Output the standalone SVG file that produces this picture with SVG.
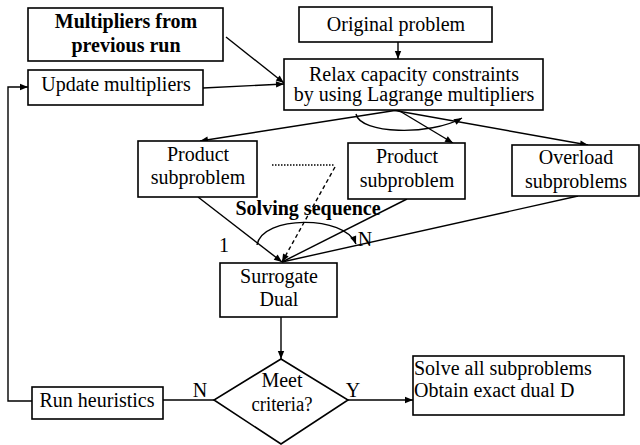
<svg xmlns="http://www.w3.org/2000/svg" width="640" height="445" viewBox="0 0 640 445">
<style>
.b{fill:#fff;stroke:#000;stroke-width:1.6}
.t{font-family:"Liberation Serif","Times New Roman",serif;font-size:20px;fill:#000;text-anchor:middle}
.l{text-anchor:start}
.bd{font-weight:bold}
.c{fill:none;stroke:#000;stroke-width:1.4}
</style>
<defs>
<marker id="ah" viewBox="0 0 10 10" refX="10" refY="5" markerWidth="9" markerHeight="8" markerUnits="userSpaceOnUse" orient="auto"><path d="M0,1 L10,5 L0,9 z" fill="#000"/></marker>
</defs>
<rect width="640" height="445" fill="#fff"/>
<g id="connectors">
<path class="c" d="M398,42 L398,59" marker-end="url(#ah)"/>
<path class="c" d="M226,37 L284,83" marker-end="url(#ah)"/>
<path class="c" d="M203,88 L284,84" marker-end="url(#ah)"/>
<path class="c" d="M398,110 L200,141" marker-end="url(#ah)"/>
<path class="c" d="M398,110 L453,143" marker-end="url(#ah)"/>
<path class="c" d="M392,110 L588,145" marker-end="url(#ah)"/>
<path class="c" d="M356,114 C360,134 430,136 462,118" marker-end="url(#ah)"/>
<path class="c" d="M272,165 L335,165" stroke-dasharray="1.5,1.5"/>
<path class="c" d="M335,167 L282,262" stroke-dasharray="4,3" marker-end="url(#ah)"/>
<path class="c" d="M198,197 L282,262" marker-end="url(#ah)"/>
<path class="c" d="M407,199 L282,262"/>
<path class="c" d="M578,196 L282,262"/>
<path class="c" d="M257,245 C262,215 345,215 356,244" marker-end="url(#ah)"/>
<path class="c" d="M281,317 L281,359" marker-end="url(#ah)"/>
<path class="c" d="M348,400 L413,400" marker-end="url(#ah)"/>
<path class="c" d="M214,400 L163,400"/>
<path class="c" d="M32,401 L8,401 L8,87 L28,87" marker-end="url(#ah)"/>
<text class="t bd" x="308" y="215">Solving sequence</text>
<text class="t" x="224" y="252">1</text>
<text class="t" x="365" y="246">N</text>
<text class="t" x="200" y="397">N</text>
<text class="t" x="353" y="397">Y</text>
</g>
<g id="multipliers-prev">
<rect class="b" x="28" y="8" width="195" height="53"/>
<text class="t bd" x="126" y="28">Multipliers from</text>
<text class="t bd" x="126" y="52">previous run</text>
</g>
<g id="update-multipliers">
<rect class="b" x="28" y="70" width="175" height="35"/>
<text class="t" x="116" y="91">Update multipliers</text>
</g>
<g id="original-problem">
<rect class="b" x="299" y="7" width="193" height="35"/>
<text class="t" x="396" y="31">Original problem</text>
</g>
<g id="relax">
<rect class="b" x="284" y="59" width="259" height="51"/>
<text class="t" x="414" y="81">Relax capacity constraints</text>
<text class="t" x="414" y="101">by using Lagrange multipliers</text>
</g>
<g id="product1">
<rect class="b" x="138" y="141" width="119" height="56"/>
<text class="t" x="198" y="161">Product</text>
<text class="t" x="198" y="184">subproblem</text>
</g>
<g id="product2">
<rect class="b" x="348" y="143" width="117" height="56"/>
<text class="t" x="407" y="163">Product</text>
<text class="t" x="407" y="187">subproblem</text>
</g>
<g id="overload">
<rect class="b" x="512" y="145" width="127" height="51"/>
<text class="t" x="576" y="164">Overload</text>
<text class="t" x="576" y="188">subproblems</text>
</g>
<g id="surrogate">
<rect class="b" x="220" y="263" width="117" height="54"/>
<text class="t" x="279" y="283">Surrogate</text>
<text class="t" x="279" y="306">Dual</text>
</g>
<g id="criteria">
<polygon class="b" points="281,359 348,400 281,444 214,400"/>
<text class="t" x="282" y="387">Meet</text>
<text class="t" x="282" y="411" textLength="61" lengthAdjust="spacingAndGlyphs">criteria?</text>
</g>
<g id="run-heuristics">
<rect class="b" x="32" y="387" width="131" height="32"/>
<text class="t" x="97" y="407">Run heuristics</text>
</g>
<g id="solve-all">
<rect class="b" x="413" y="356" width="211" height="59"/>
<text class="t l" x="414" y="375">Solve all subproblems</text>
<text class="t l" x="414" y="397">Obtain exact dual D</text>
</g>
</svg>
